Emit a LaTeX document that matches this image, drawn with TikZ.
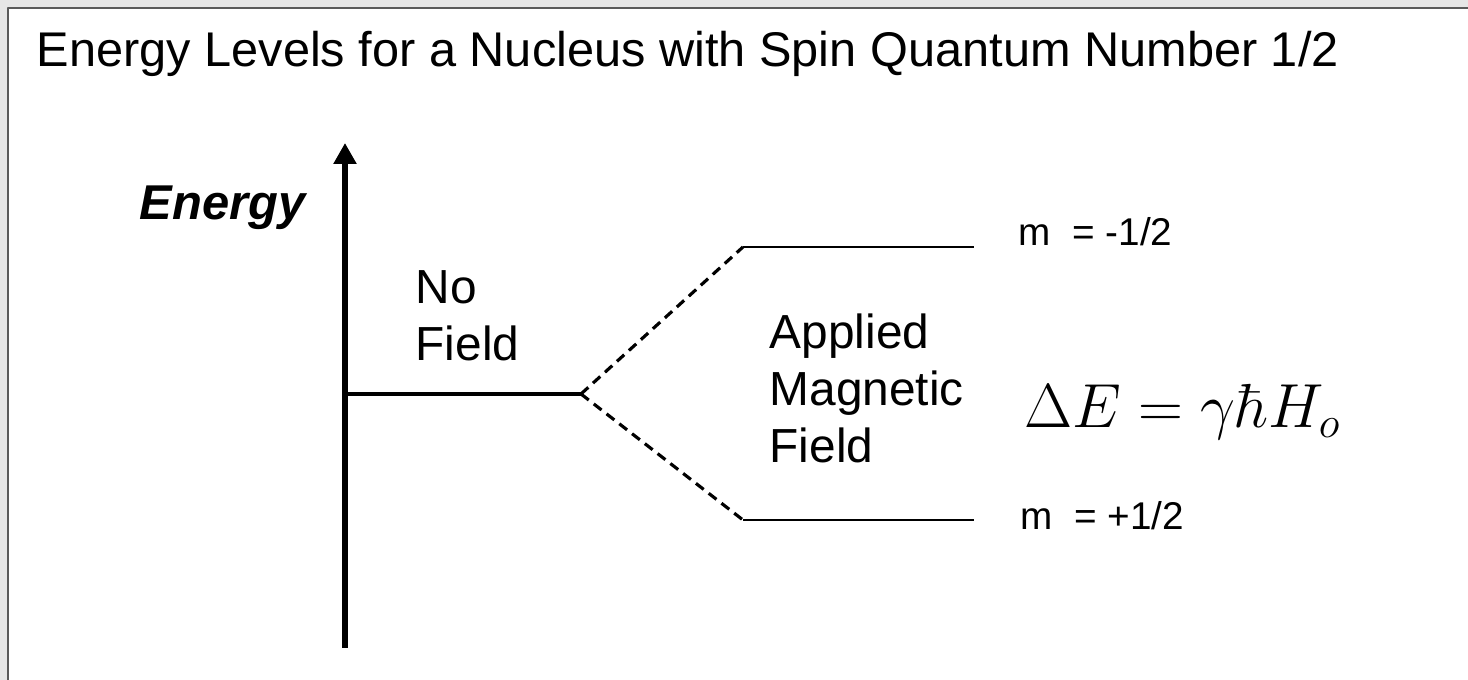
\RequirePackage{fix-cm}
\documentclass[tikz,border=0pt]{standalone}
\usepackage[no-math]{fontspec}
\setmainfont{Liberation Sans}
\usetikzlibrary{arrows.meta}
\definecolor{frame}{HTML}{E6E6E6}
\definecolor{edge}{HTML}{5A5A5A}
\tikzset{
  every picture/.style={line join=round},
  lbl/.style={inner sep=0pt, anchor=base west, align=left,
    font=\fontsize{13.6pt}{16.3pt}\selectfont},
  axis/.style={line width=1.7pt, -{Triangle[length=0.21cm,width=0.22cm]}},
  nofield/.style={line width=1.3pt},
  level/.style={line width=0.6pt},
  split/.style={line width=0.9pt, dash pattern=on 2.8pt off 1.8pt},
}
\begin{document}
\begin{tikzpicture}[x=0.01cm,y=-0.01cm]
\useasboundingbox (0,0) rectangle (1468,680);
% window frame
\fill[frame](0,0)rectangle(1468,680);
\fill[white](8,8)rectangle(1468,680);
\draw[edge,line width=0.45pt](8,680)--(8,8)--(1468,8);
\node[lbl,font=\fontsize{13.85pt}{16pt}\selectfont](title)at(36,67)
  {Energy Levels for a Nucleus with Spin Quantum Number 1/2};
% energy axis
\coordinate(base)at(345,648);
\coordinate(tip)at(345,143);
\draw[axis](base)--(tip);
\node[lbl,font=\bfseries\itshape\fontsize{13.9pt}{16pt}\selectfont](energy)at(139,220){Energy};
% levels
\coordinate(zero)at(345,394);
\coordinate(split)at(581,394);
\coordinate(upL)at(743,247);
\coordinate(upR)at(974,247);
\coordinate(loL)at(743,520);
\coordinate(loR)at(974,520);
\draw[nofield](zero)--(split);
\draw[split](split)--(upL);
\draw[split](split)--(loL);
\draw[level](upL)--(upR);
\draw[level](loL)--(loR);
% multi-line labels sit on their last baseline
\node[lbl](nofield)at(415,361){No\\Field};
\node[lbl](applied)at(769,463){Applied\\Magnetic\\Field};
\node[lbl,font=\fontsize{11pt}{12pt}\selectfont](mup)at(1018,246){m\ \ = -1/2};
\node[lbl,font=\fontsize{11pt}{12pt}\selectfont](mlo)at(1020,530){m\ \ = +1/2};
\node[lbl,font=\fontsize{17.7pt}{21pt}\selectfont](gap)at(1024,428){$\Delta E = \gamma\hbar H_o$};
\end{tikzpicture}
\end{document}
